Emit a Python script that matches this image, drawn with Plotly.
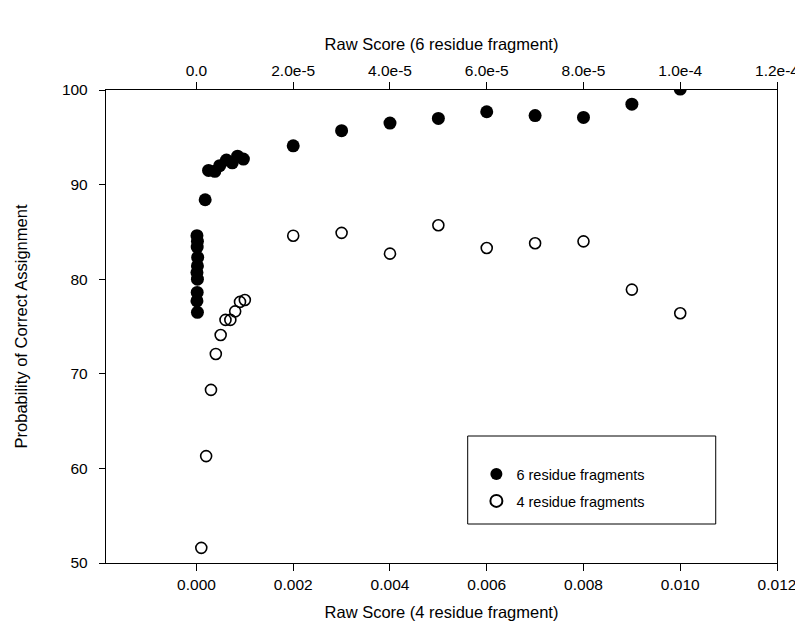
import plotly.graph_objects as go

# ---- data ----
# 6 residue fragments (top axis, raw score)
six_x = [0.1e-6, 0.2e-6, 0.15e-6, 0.25e-6, 0.2e-6, 0.1e-6, 0.2e-6, 0.15e-6, 0.1e-6, 0.2e-6,
         1.8e-6, 2.5e-6, 3.8e-6, 4.8e-6, 6.2e-6, 7.4e-6, 8.5e-6, 9.7e-6,
         2e-5, 3e-5, 4e-5, 5e-5, 6e-5, 7e-5, 8e-5, 9e-5, 1e-4]
six_y = [84.6, 84.0, 83.4, 82.3, 81.4, 80.7, 80.0, 78.6, 77.7, 76.5,
         88.4, 91.5, 91.4, 92.0, 92.6, 92.3, 93.0, 92.7,
         94.1, 95.7, 96.5, 97.0, 97.7, 97.3, 97.1, 98.5, 100.1]

# 4 residue fragments (bottom axis, raw score)
four_x = [0.0001, 0.0002, 0.0003, 0.0004, 0.0005, 0.0006, 0.0007, 0.0008, 0.0009, 0.0010,
          0.002, 0.003, 0.004, 0.005, 0.006, 0.007, 0.008, 0.009, 0.010]
four_y = [51.6, 61.3, 68.3, 72.1, 74.1, 75.7, 75.7, 76.6, 77.6, 77.8,
          84.6, 84.9, 82.7, 85.7, 83.3, 83.8, 84.0, 78.9, 76.4]

bottom_tickvals = [0.000, 0.002, 0.004, 0.006, 0.008, 0.010, 0.012]
top_tickvals = [0.0, 2e-5, 4e-5, 6e-5, 8e-5, 1e-4, 1.2e-4]
top_ticktext = ["0.0", "2.0e-5", "4.0e-5", "6.0e-5", "8.0e-5", "1.0e-4", "1.2e-4"]
y_tickvals = [50, 60, 70, 80, 90, 100]

x_range = [-0.00187, 0.012]
top_range = [x_range[0] / 100, x_range[1] / 100]

FONT = "Liberation Sans, Arial, Helvetica, sans-serif"
TICK = 15.5
TITLE = 16.5

fig = go.Figure()
fig.add_trace(go.Scatter(
    x=six_x, y=six_y, xaxis="x2", yaxis="y", mode="markers",
    name="6 residue fragments", legend="legend",
    marker=dict(symbol="circle", size=13, color="black", line=dict(width=0)),
))
fig.add_trace(go.Scatter(
    x=four_x, y=four_y, xaxis="x", yaxis="y", mode="markers",
    name="4 residue fragments", legend="legend2",
    marker=dict(symbol="circle-open", size=11, color="black", line=dict(width=1.6, color="black")),
))

axis_common = dict(showgrid=False, zeroline=False, showline=True, linecolor="black",
                   linewidth=1.3, ticks="outside", tickcolor="black", tickwidth=1.3,
                   tickfont=dict(family=FONT, size=TICK, color="black"))

# page body has an 8px margin; compensate so the plot area sits at x 100..779, y 90..563
PL, PR, PT, PB = 100, 779, 90, 563
fig.update_layout(
    width=803, height=639,
    margin=dict(l=PL - 8, r=803 - PR + 8, t=PT - 8, b=639 - PB + 8),
    paper_bgcolor="white", plot_bgcolor="white",
    font=dict(family=FONT, color="black"),
    xaxis=dict(range=x_range, tickvals=bottom_tickvals, tickformat=".3f", ticklen=7,
               title=dict(text="Raw Score (4 residue fragment)", font=dict(family=FONT, size=TITLE), standoff=14),
               **axis_common),
    xaxis2=dict(range=top_range, tickvals=top_tickvals, ticktext=top_ticktext, ticklen=7,
                overlaying="x", side="top", anchor="y",
                title=dict(text="Raw Score (6 residue fragment)", font=dict(family=FONT, size=TITLE), standoff=6),
                **axis_common),
    yaxis=dict(range=[50, 100], tickvals=y_tickvals, ticklen=6, mirror=True, ticklabelstandoff=8,
               title=dict(text="Probability of Correct Assignment", font=dict(family=FONT, size=TITLE), standoff=30),
               **axis_common),
    showlegend=True,
    legend=dict(x=0.552, y=0.222, xanchor="left", yanchor="top",
                bgcolor="rgba(0,0,0,0)", borderwidth=0,
                font=dict(family=FONT, size=14.5, color="black"), itemsizing="constant"),
    legend2=dict(x=0.552, y=0.165, xanchor="left", yanchor="top",
                 bgcolor="rgba(0,0,0,0)", borderwidth=0,
                 font=dict(family=FONT, size=14.5, color="black"), itemsizing="constant"),
    shapes=[dict(type="rect", xref="paper", yref="paper",
                 x0=(466 - PL) / (PR - PL), x1=(717 - PL) / (PR - PL),
                 y0=(PB - 524) / (PB - PT), y1=(PB - 436) / (PB - PT),
                 line=dict(color="black", width=1), fillcolor="rgba(0,0,0,0)")],
)

fig.write_html("out.html")
